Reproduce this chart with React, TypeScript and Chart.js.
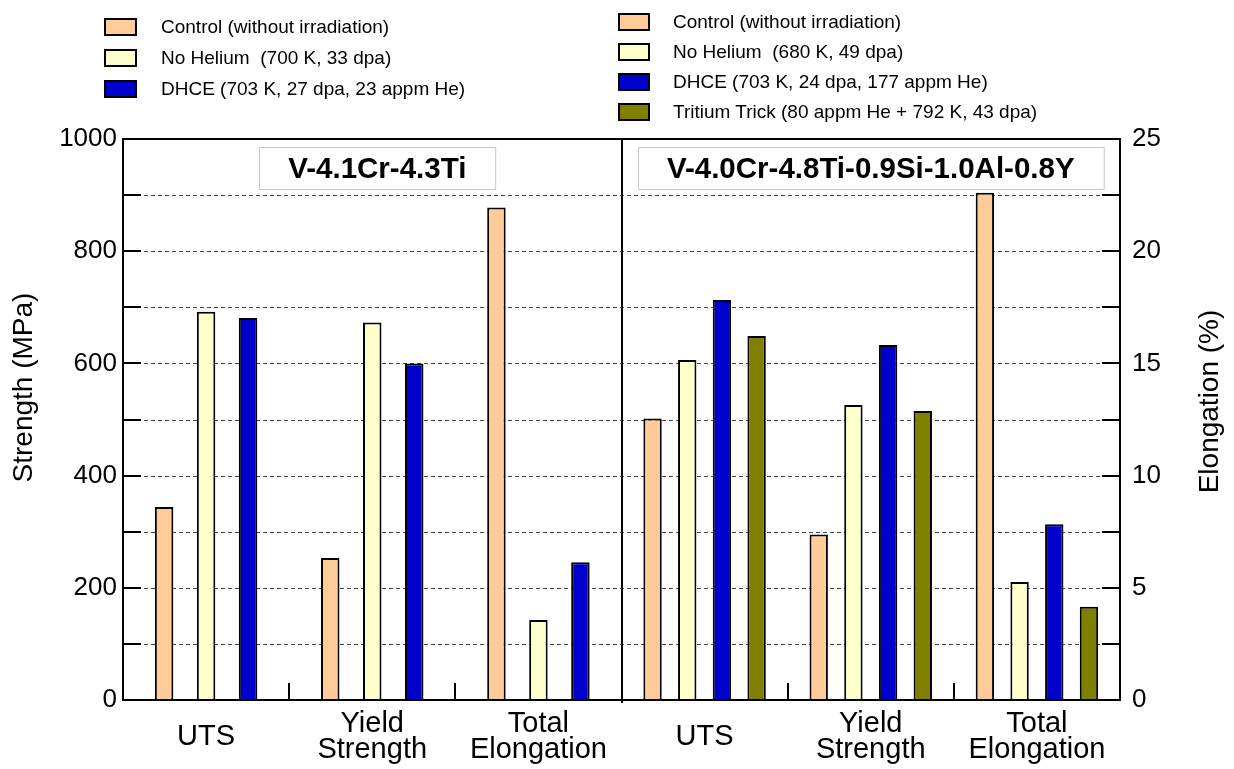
import React, { useEffect, useRef } from "react";
import { Chart, registerables } from "chart.js";

Chart.register(...registerables);

const FONT = "'Liberation Sans', Arial, Helvetica, sans-serif";

// ---- categories / labels ----
const xLabels: (string | string[])[] = [
  "UTS",
  ["Yield", "Strength"],
  ["Total", "Elongation"],
  "UTS",
  ["Yield", "Strength"],
  ["Total", "Elongation"],
];
const panelTitles = ["V-4.1Cr-4.3Ti", "V-4.0Cr-4.8Ti-0.9Si-1.0Al-0.8Y"];

// ---- series names & colours ----
const leftSeries = [
  "Control (without irradiation)",
  "No Helium  (700 K, 33 dpa)",
  "DHCE (703 K, 27 dpa, 23 appm He)",
];
const rightSeries = [
  "Control (without irradiation)",
  "No Helium  (680 K, 49 dpa)",
  "DHCE (703 K, 24 dpa, 177 appm He)",
  "Tritium Trick (80 appm He + 792 K, 43 dpa)",
];
const seriesColors = ["#FFCC99", "#FFFFCC", "#0000CC", "#808000"];

// ---- V-4.1Cr-4.3Ti : strength (MPa) [UTS, Yield Strength] ----
const leftControl = [344, 253];
const leftNoHelium = [692, 673];
const leftDHCE = [681, 600];
// total elongation (%) [Control, No Helium, DHCE]
const leftElongation = [21.95, 3.57, 6.14];

// ---- V-4.0Cr-4.8Ti-0.9Si-1.0Al-0.8Y : strength (MPa) [UTS, Yield Strength] ----
const rightControl = [502, 295];
const rightNoHelium = [606, 526];
const rightDHCE = [713, 633];
const rightTritium = [649, 515];
// total elongation (%) [Control, No Helium, DHCE, Tritium Trick]
const rightElongation = [22.6, 5.26, 7.83, 4.15];

// ---- axes ----
const strengthMax = 1000;
const strengthStep = 100;
const strengthLabelStep = 200;
const elongMax = 25;
const elongStep = 2.5;
const elongLabelStep = 5;

function buildDatasets() {
  const sets: any[] = [];
  const leftStrength = [leftControl, leftNoHelium, leftDHCE];
  const rightStrength = [rightControl, rightNoHelium, rightDHCE, rightTritium];
  const common = { borderColor: "#000", borderWidth: 2, skipNull: true };
  const leftGeom = { categoryPercentage: 0.758, barPercentage: 0.44 };
  const rightGeom = { categoryPercentage: 0.835, barPercentage: 0.53 };

  leftStrength.forEach((vals, i) => {
    sets.push({
      label: leftSeries[i],
      data: [vals[0], vals[1], null, null, null, null],
      backgroundColor: seriesColors[i],
      yAxisID: "y",
      stack: "L" + i,
      ...common,
      ...leftGeom,
    });
  });
  leftElongation.forEach((v, i) => {
    sets.push({
      label: leftSeries[i] + " elongation",
      data: [null, null, v, null, null, null],
      backgroundColor: seriesColors[i],
      yAxisID: "y2",
      stack: "L" + i,
      ...common,
      ...leftGeom,
    });
  });
  rightStrength.forEach((vals, i) => {
    sets.push({
      label: rightSeries[i],
      data: [null, null, null, vals[0], vals[1], null],
      backgroundColor: seriesColors[i],
      yAxisID: "y",
      stack: "R" + i,
      ...common,
      ...rightGeom,
    });
  });
  rightElongation.forEach((v, i) => {
    sets.push({
      label: rightSeries[i] + " elongation",
      data: [null, null, null, null, null, v],
      backgroundColor: seriesColors[i],
      yAxisID: "y2",
      stack: "R" + i,
      ...common,
      ...rightGeom,
    });
  });
  return sets;
}

const decorPlugin = {
  id: "decor",
  beforeDatasetsDraw(chart: any) {
    const { ctx, chartArea: a, scales } = chart;
    const y = scales.y;
    ctx.save();
    ctx.strokeStyle = "#444";
    ctx.lineWidth = 1;
    ctx.setLineDash([4, 3]);
    y.ticks.forEach((t: any) => {
      if (t.value <= y.min || t.value >= y.max) return;
      const py = Math.round(y.getPixelForValue(t.value)) + 0.5;
      ctx.beginPath();
      ctx.moveTo(a.left, py);
      ctx.lineTo(a.right, py);
      ctx.stroke();
    });
    ctx.restore();
  },
  afterDatasetsDraw(chart: any) {
    const { ctx, chartArea: a, scales } = chart;
    const x = scales.x;
    const y = scales.y;
    const y2 = scales.y2;
    ctx.save();
    ctx.setLineDash([]);
    ctx.strokeStyle = "#000";
    ctx.lineWidth = 2;
    // frame
    ctx.strokeRect(a.left, a.top, a.right - a.left, a.bottom - a.top);
    // inward ticks left / right
    const tl = 18;
    y.ticks.forEach((t: any) => {
      const py = Math.round(y.getPixelForValue(t.value));
      ctx.beginPath();
      ctx.moveTo(a.left, py);
      ctx.lineTo(a.left + tl, py);
      ctx.stroke();
    });
    y2.ticks.forEach((t: any) => {
      const py = Math.round(y2.getPixelForValue(t.value));
      ctx.beginPath();
      ctx.moveTo(a.right, py);
      ctx.lineTo(a.right - tl, py);
      ctx.stroke();
    });
    // category boundaries
    const n = x.ticks.length;
    for (let i = 0; i < n - 1; i++) {
      const bx = Math.round((x.getPixelForValue(i) + x.getPixelForValue(i + 1)) / 2);
      ctx.beginPath();
      if (i === 2) {
        ctx.moveTo(bx, a.top);
        ctx.lineTo(bx, a.bottom + 3);
      } else {
        ctx.moveTo(bx, a.bottom);
        ctx.lineTo(bx, a.bottom - 17);
      }
      ctx.stroke();
    }
    // panel titles
    ctx.font = "bold 29.5px " + FONT;
    ctx.textAlign = "center";
    ctx.textBaseline = "middle";
    const centers = [
      (x.getPixelForValue(0) + x.getPixelForValue(2)) / 2 + 5,
      (x.getPixelForValue(3) + x.getPixelForValue(5)) / 2,
    ];
    panelTitles.forEach((title, i) => {
      const tw = ctx.measureText(title).width;
      const w = tw + 58;
      const h = 42;
      const bx = Math.round(centers[i] - w / 2) + 0.5;
      const by = a.top + 8.5;
      ctx.fillStyle = "#fff";
      ctx.fillRect(bx, by, w, h);
      ctx.strokeStyle = "#c8c8c8";
      ctx.lineWidth = 1;
      ctx.strokeRect(bx, by, w, h);
      ctx.fillStyle = "#000";
      ctx.fillText(title, centers[i], by + h / 2 + 1);
    });
    // axis titles
    ctx.font = "28px " + FONT;
    ctx.fillStyle = "#000";
    const midY = (a.top + a.bottom) / 2;
    ctx.save();
    ctx.translate(a.left - 99, midY - 32);
    ctx.rotate(-Math.PI / 2);
    ctx.fillText("Strength (MPa)", 0, 0);
    ctx.restore();
    ctx.save();
    ctx.translate(a.right + 90, midY - 18);
    ctx.rotate(-Math.PI / 2);
    ctx.fillText("Elongation (%)", 0, 0);
    ctx.restore();
    ctx.restore();
  },
};

function LegendBlock(props: {
  items: string[];
  boxX: number;
  boxW: number;
  textX: number;
  firstY: number;
  gap: number;
}) {
  const { items, boxX, boxW, textX, firstY, gap } = props;
  return (
    <>
      {items.map((label, i) => {
        const cy = firstY + i * gap;
        return (
          <React.Fragment key={i}>
            <div
              style={{
                position: "absolute",
                left: boxX,
                top: cy - 9,
                width: boxW,
                height: 18,
                boxSizing: "border-box",
                border: "2px solid #000",
                background: seriesColors[i],
              }}
            />
            <div
              style={{
                position: "absolute",
                left: textX,
                top: cy - 12,
                height: 24,
                lineHeight: "24px",
                fontSize: 19,
                fontFamily: FONT,
                color: "#000",
                whiteSpace: "pre",
              }}
            >
              {label}
            </div>
          </React.Fragment>
        );
      })}
    </>
  );
}

export default function App() {
  const canvasRef = useRef<HTMLCanvasElement | null>(null);

  useEffect(() => {
    const canvas = canvasRef.current;
    if (!canvas) return;
    const chart = new Chart(canvas, {
      type: "bar",
      data: { labels: xLabels as any, datasets: buildDatasets() },
      plugins: [decorPlugin],
      options: {
        animation: false,
        responsive: false,
        maintainAspectRatio: false,
        layout: { padding: { top: 139, left: 0, right: 0, bottom: 0 } },
        plugins: { legend: { display: false }, tooltip: { enabled: false } },
        scales: {
          x: {
            type: "category",
            grid: { display: false, drawTicks: false },
            border: { display: false },
            afterFit: (s: any) => {
              s.height = 69;
            },
            ticks: {
              color: "#000",
              font: { family: FONT, size: 29, lineHeight: 0.9 },
              padding: 24,
              crossAlign: "center",
              maxRotation: 0,
              autoSkip: false,
            },
          },
          y: {
            type: "linear",
            position: "left",
            min: 0,
            max: strengthMax,
            stacked: false,
            grid: { display: false, drawTicks: false },
            border: { display: false },
            afterFit: (s: any) => {
              s.width = 123;
            },
            ticks: {
              stepSize: strengthStep,
              color: "#000",
              padding: 6,
              font: { family: FONT, size: 26 },
              callback: (v: any) => (Number(v) % strengthLabelStep === 0 ? String(v) : ""),
            },
          },
          y2: {
            type: "linear",
            position: "right",
            min: 0,
            max: elongMax,
            stacked: false,
            grid: { display: false, drawTicks: false },
            border: { display: false },
            afterFit: (s: any) => {
              s.width = 114;
            },
            ticks: {
              stepSize: elongStep,
              color: "#000",
              padding: 12,
              font: { family: FONT, size: 26 },
              callback: (v: any) => (Number(v) % elongLabelStep === 0 ? String(v) : ""),
            },
          },
        },
      } as any,
    });
    return () => chart.destroy();
  }, []);

  return (
    <div
      style={{
        position: "absolute",
        left: 0,
        top: 0,
        width: 1234,
        height: 769,
        background: "#fff",
        overflow: "hidden",
      }}
    >
      <canvas
        ref={canvasRef}
        width={1234}
        height={769}
        style={{ position: "absolute", left: 0, top: 0, width: 1234, height: 769 }}
      />
      <LegendBlock items={leftSeries} boxX={104} boxW={33} textX={161} firstY={27} gap={31} />
      <LegendBlock items={rightSeries} boxX={618} boxW={32} textX={673} firstY={22} gap={30} />
    </div>
  );
}
